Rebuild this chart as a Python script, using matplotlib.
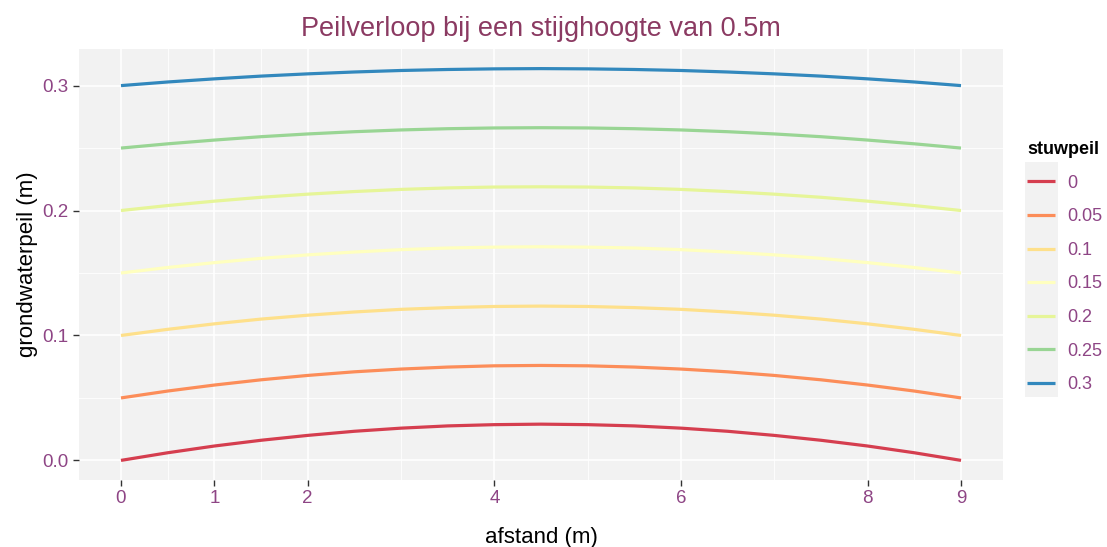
import matplotlib.pyplot as plt
from matplotlib.patches import Rectangle
from matplotlib.ticker import FixedLocator

plt.rcParams['font.family'] = ['Liberation Sans', 'DejaVu Sans']

# afstand (m) along the profile
afstand = [0.0, 0.5, 1.0, 1.5, 2.0, 2.5, 3.0, 3.5, 4.0, 4.5,
           5.0, 5.5, 6.0, 6.5, 7.0, 7.5, 8.0, 8.5, 9.0]

# grondwaterpeil (m) per stuwpeil
peil_000 = [0.0000, 0.0061, 0.0115, 0.0161, 0.0200, 0.0233, 0.0258, 0.0276, 0.0286, 0.0290,
            0.0286, 0.0276, 0.0258, 0.0233, 0.0200, 0.0161, 0.0115, 0.0061, 0.0000]
peil_005 = [0.0500, 0.0555, 0.0603, 0.0645, 0.0680, 0.0709, 0.0731, 0.0747, 0.0757, 0.0760,
            0.0757, 0.0747, 0.0731, 0.0709, 0.0680, 0.0645, 0.0603, 0.0555, 0.0500]
peil_010 = [0.1000, 0.1049, 0.1093, 0.1131, 0.1162, 0.1188, 0.1209, 0.1223, 0.1232, 0.1235,
            0.1232, 0.1223, 0.1209, 0.1188, 0.1162, 0.1131, 0.1093, 0.1049, 0.1000]
peil_015 = [0.1500, 0.1544, 0.1583, 0.1617, 0.1645, 0.1668, 0.1687, 0.1700, 0.1707, 0.1710,
            0.1707, 0.1700, 0.1687, 0.1668, 0.1645, 0.1617, 0.1583, 0.1544, 0.1500]
peil_020 = [0.2000, 0.2040, 0.2075, 0.2106, 0.2131, 0.2152, 0.2169, 0.2181, 0.2188, 0.2190,
            0.2188, 0.2181, 0.2169, 0.2152, 0.2131, 0.2106, 0.2075, 0.2040, 0.2000]
peil_025 = [0.2500, 0.2534, 0.2564, 0.2591, 0.2613, 0.2631, 0.2645, 0.2655, 0.2661, 0.2663,
            0.2661, 0.2655, 0.2645, 0.2631, 0.2613, 0.2591, 0.2564, 0.2534, 0.2500]
peil_030 = [0.3000, 0.3029, 0.3054, 0.3076, 0.3094, 0.3109, 0.3121, 0.3129, 0.3134, 0.3136,
            0.3134, 0.3129, 0.3121, 0.3109, 0.3094, 0.3076, 0.3054, 0.3029, 0.3000]

stuwpeil = ["0", "0.05", "0.1", "0.15", "0.2", "0.25", "0.3"]
series = [peil_000, peil_005, peil_010, peil_015, peil_020, peil_025, peil_030]
colors = ["#D53E4F", "#FC8D59", "#FEE08B", "#FFFFBF", "#E6F598", "#99D594", "#3288BD"]

x_breaks = [0, 1, 2, 4, 6, 8, 9]
x_minor = [0.5, 1.5, 3, 5, 7, 8.5]
y_breaks = [0.0, 0.1, 0.2, 0.3]
y_minor = [0.05, 0.15, 0.25]

tick_col = "#8E4585"
title_col = "#8B3A62"

fig = plt.figure(figsize=(11.07, 5.47), dpi=100)
ax = fig.add_axes([79 / 1107, 1 - 480 / 547, (1003 - 79) / 1107, (480 - 49) / 547])
ax.set_facecolor("#F2F2F2")

for lab, vals, col in zip(stuwpeil, series, colors):
    ax.plot(afstand, vals, color=col, lw=2.3, label=lab, solid_capstyle='butt')

ax.set_xlim(-0.45, 9.45)
ax.set_ylim(-0.0157, 0.3293)

ax.xaxis.set_major_locator(FixedLocator(x_breaks))
ax.xaxis.set_minor_locator(FixedLocator(x_minor))
ax.yaxis.set_major_locator(FixedLocator(y_breaks))
ax.yaxis.set_minor_locator(FixedLocator(y_minor))
ax.set_xticklabels([str(v) for v in x_breaks])
ax.set_yticklabels(["%.1f" % v for v in y_breaks])

ax.grid(which='major', color='white', lw=1.2)
ax.grid(which='minor', color='white', lw=0.6)
ax.set_axisbelow(True)
for s in ax.spines.values():
    s.set_visible(False)

ax.tick_params(which='major', length=4.5, width=1.0, color='#333333',
               labelcolor=tick_col, labelsize=13.5, pad=3)
ax.tick_params(which='minor', length=0)

ax.set_xlabel("afstand (m)", fontsize=16, color='black', labelpad=14)
ax.set_ylabel("grondwaterpeil (m)", fontsize=16, color='black', labelpad=3)
ax.set_title("Peilverloop bij een stijghoogte van 0.5m", fontsize=19.5, color=title_col, pad=9)

leg = ax.legend(loc='upper left', bbox_to_anchor=(1018 / 1107, 1 - 132 / 547),
                bbox_transform=fig.transFigure, frameon=False, title="stuwpeil",
                alignment='left', handlelength=1.55, handletextpad=0.7,
                labelspacing=0.92, borderpad=0, fontsize=13,
                title_fontproperties={'weight': 'bold', 'size': 13})
for t in leg.get_texts():
    t.set_color(tick_col)

fig.patches.append(Rectangle((1025 / 1107, 1 - 397 / 547), 33 / 1107, 235 / 547,
                             transform=fig.transFigure, facecolor="#F2F2F2",
                             edgecolor='none', zorder=-1))

fig.savefig("out.png", dpi=100)
